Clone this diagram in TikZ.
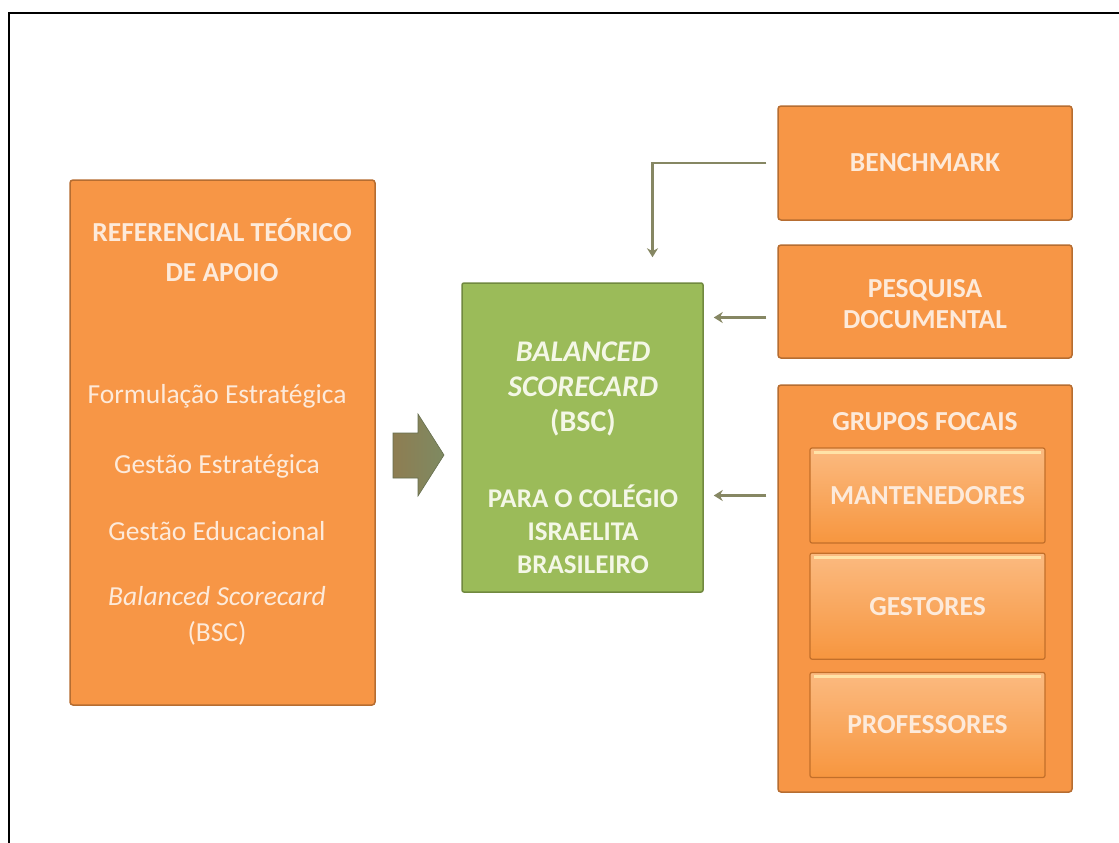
\documentclass[tikz,border=0pt]{standalone}
\usepackage{fontspec}
\setmainfont{Carlito}
\usetikzlibrary{positioning, arrows.meta}

\definecolor{boxorange}{HTML}{F79646}
\definecolor{orangeline}{HTML}{B66D31}
\definecolor{boxgreen}{HTML}{9BBB59}
\definecolor{greenline}{HTML}{71893F}
\definecolor{cream}{HTML}{FDEADA}
\definecolor{greencream}{HTML}{F4F7E6}
\definecolor{flowgray}{HTML}{868763}
\definecolor{arrowleft}{HTML}{8E7D52}
\definecolor{arrowright}{HTML}{7E8A62}
\definecolor{grouptop}{HTML}{FBBA80}
\definecolor{groupbottom}{HTML}{F7963F}
\definecolor{groupline}{HTML}{C26F2A}
\definecolor{shine}{HTML}{FFE3A8}

\tikzset{
  orangebox/.style={draw=orangeline, line width=1.5pt, fill=boxorange,
    rounded corners=3pt, inner sep=0pt},
  greenbox/.style={draw=greenline, line width=1.5pt, fill=boxgreen,
    rounded corners=2pt, inner sep=0pt},
  groupbox/.style={draw=groupline, line width=1.2pt, top color=grouptop,
    bottom color=groupbottom, rounded corners=2pt, inner sep=0pt,
    minimum width=235pt},
  boxtext/.style={text=cream, align=center,
    font=\fontsize{27.5}{40}\selectfont\bfseries},
  itemtext/.style={text=cream, align=center,
    font=\fontsize{27.5}{36}\selectfont},
  flow/.style={draw=flowgray, line width=2.5pt,
    -{Stealth[length=9pt, width=11pt]}}
}

\begin{document}
\begin{tikzpicture}[x=1pt, y=-1pt]
  \useasboundingbox (0,0) rectangle (1119,843);
  \fill[white] (0,0) rectangle (1119,843);
  \draw[line width=2pt] (9,843) -- (9,13) -- (1119,13);

  % left column
  \node [orangebox, minimum width=305pt, minimum height=525pt] (ref) at (222.5,442.5) {};
  \node [boxtext] (refTitle) at (222,250) {REFERENCIAL TEÓRICO\\DE APOIO};
  \node [itemtext] (formulacao) at (217,396) {Formulação Estratégica};
  \node [itemtext] (gestaoE) at (217,466) {Gestão Estratégica};
  \node [itemtext] (gestaoEd) at (217,531) {Gestão Educacional};
  \node [itemtext] (refBsc) at (217,616) {\textit{Balanced Scorecard}\\(BSC)};

  % middle
  \node [greenbox, minimum width=241pt, minimum height=309pt] (bsc) at (582.5,437.5) {};
  \node [boxtext, text=greencream, font=\fontsize{30}{35}\selectfont\bfseries]
    (bscTitle) at (583,389) {\textit{BALANCED}\\\textit{SCORECARD}\\(BSC)};
  \node [boxtext, text=greencream, font=\fontsize{27}{33}\selectfont\bfseries]
    (bscFor) at (583,529) {PARA O COLÉGIO\\ISRAELITA\\BRASILEIRO};

  % big arrow into the BSC box
  \shade [left color=arrowleft, right color=arrowright, draw=arrowright!80!black, line width=0.6pt]
    (393,433) -- (418,433) -- (418,414) -- (444,455) -- (418,496) -- (418,478) -- (393,478) -- cycle;

  % right column
  \node [orangebox, minimum width=294pt, minimum height=114pt] (bench) at (925,163) {};
  \node [boxtext] (benchText) at (bench) {BENCHMARK};
  \node [orangebox, minimum width=294pt, minimum height=113pt] (pesq) at (925,301.5) {};
  \node [boxtext, font=\fontsize{27.5}{31}\selectfont\bfseries] (pesqText) at (925,304) {PESQUISA\\DOCUMENTAL};
  \node [orangebox, minimum width=294pt, minimum height=407pt] (grupos) at (925,588.5) {};
  \node [boxtext] (gruposText) at (925,422) {GRUPOS FOCAIS};

  \node [groupbox, minimum height=95pt] (mant) at (927.5,495.5) {};
  \node [groupbox, minimum height=106pt, below=9pt of mant] (gest) {};
  \node [groupbox, minimum height=105pt, below=12pt of gest] (prof) {};
  \foreach \g/\t in {mant/MANTENEDORES, gest/GESTORES, prof/PROFESSORES} {
    \draw [shine, line width=3pt] ([xshift=5pt, yshift=-5pt]\g.north west)
      -- ([xshift=-5pt, yshift=-5pt]\g.north east);
    \node [boxtext] (\g Text) at (\g) {\t};
  }

  % connectors
  \draw [flow] ([xshift=-11pt]bench.west) -| ([xshift=70pt, yshift=25pt]bsc.north);
  \draw [flow, shorten >=10pt] ([xshift=-11pt, yshift=-16pt]pesq.west)
    -- ([yshift=-16pt]pesq.west -| bsc.east);
  \draw [flow, shorten >=10pt] ([xshift=-11pt]grupos.west |- mant.west)
    -- (bsc.east |- mant.west);
\end{tikzpicture}
\end{document}
